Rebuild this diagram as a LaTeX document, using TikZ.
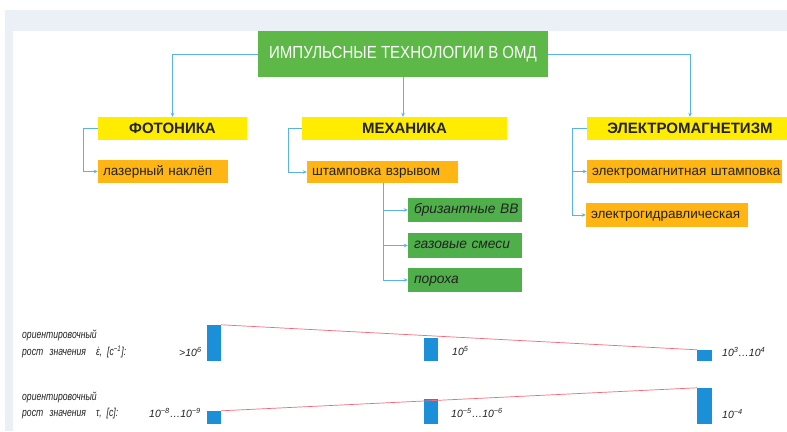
\documentclass[tikz,border=0pt]{standalone}
\usepackage{fontspec}
\setmainfont{Liberation Sans}
\newfontfamily\narrowfont[FakeStretch=0.86]{Liberation Sans}
\newfontfamily\lblfont[FakeStretch=0.75]{Liberation Sans}
\usetikzlibrary{arrows.meta,calc}
\definecolor{bgc}{HTML}{EBF0F7}
\definecolor{topgreen}{HTML}{5DB848}
\definecolor{ylw}{HTML}{FFEC00}
\definecolor{orng}{HTML}{FFB514}
\definecolor{grn}{HTML}{4FAF4A}
\definecolor{conc}{HTML}{5AB2E6}
\definecolor{barc}{HTML}{1B8FD8}
\definecolor{redl}{HTML}{F2697A}
\definecolor{txtc}{HTML}{222222}
\newcommand{\epsdot}{\ooalign{ε\cr\hidewidth˙\hidewidth\cr}}
\tikzset{
  headbox/.style={fill=ylw, inner sep=0pt, font=\fontsize{15}{17}\selectfont\bfseries, text=txtc},
  orbox/.style={fill=orng, inner xsep=5pt, inner ysep=0pt, align=left, text height=10pt, text depth=3pt, font=\fontsize{13.5}{16}\selectfont, text=txtc},
  grbox/.style={fill=grn, inner xsep=6pt, inner ysep=0pt, align=left, text height=9.5pt, text depth=3pt, font=\fontsize{13.8}{15}\selectfont\itshape, text=txtc},
  conn/.style={draw=conc, line width=0.8pt},
  arr/.style={conn, -{Stealth[length=4pt,width=3.5pt]}},
  bar/.style={fill=barc, draw=none},
  lbl/.style={font=\lblfont\fontsize{11.5}{13}\selectfont\itshape, text=txtc, inner sep=0pt, anchor=west},
  numl/.style={font=\fontsize{10.5}{12}\selectfont\itshape, text=txtc, inner sep=0pt, anchor=west},
}
\begin{document}
\begin{tikzpicture}[x=1pt,y=-1pt]
\useasboundingbox (0,0) rectangle (787,431);
\clip (0,0) rectangle (787,431);
\fill[white] (0,0) rectangle (787,431);
\fill[bgc] (5,10) rectangle (787,431);
\fill[white] (13,31) rectangle (787,431);

% top node
\node[fill=topgreen, minimum width=290pt, minimum height=46pt, inner sep=0pt,
      font=\narrowfont\fontsize{17.5}{19}\selectfont, text=white] (top) at (403,54) {ИМПУЛЬСНЫЕ ТЕХНОЛОГИИ В ОМД};

% heads
\node[headbox, minimum width=149pt, minimum height=23pt] (foto) at (172.5,128.5) {ФОТОНИКА};
\node[headbox, minimum width=205pt, minimum height=23pt] (mech) at (404.5,128.5) {МЕХАНИКА};
\node[headbox, minimum width=206pt, minimum height=23pt] (em) at (690,128.5) {ЭЛЕКТРОМАГНЕТИЗМ};

% orange boxes
\node[orbox, text width=120pt, minimum height=23pt] (laser) at (163,171.5) {\mbox{лазерный наклёп}};
\node[orbox, text width=141pt, minimum height=22pt] (shtamp) at (382.5,172) {\mbox{штамповка взрывом}};
\node[orbox, text width=185pt, minimum height=23pt] (emsh) at (684.5,171.5) {\mbox{электромагнитная штамповка}};
\node[orbox, text width=152pt, minimum height=24pt] (eg) at (667,215) {\mbox{электрогидравлическая}};

% green boxes
\node[grbox, text width=102pt, minimum height=24pt] (briz) at (465,210) {\mbox{бризантные ВВ}};
\node[grbox, text width=102pt, minimum height=25pt] (gaz) at (465,245.5) {\mbox{газовые смеси}};
\node[grbox, text width=102pt, minimum height=24pt] (por) at (465,280) {\mbox{пороха}};

% connectors from top
\draw[arr] (top.west) -| (foto.north);
\draw[arr] (top.east) -| (em.north);
\draw[arr] (top.south) -- (top.south |- mech.north);

\coordinate (fx) at (83,128.5);
\draw[conn] (foto.west) -- (fx);
\draw[arr] (fx) |- (laser.west);

\coordinate (mx) at (288,128.5);
\draw[conn] (mech.west) -- (mx);
\draw[arr] (mx) |- (shtamp.west);

\coordinate (ex) at (572,128.5);
\draw[conn] (em.west) -- (ex);
\draw[arr] (ex) |- (emsh.west);
\draw[arr] (ex) |- (eg.west);

\coordinate (sx) at (383,183);
\draw[arr] (sx) |- (briz.west);
\draw[arr] (sx) |- (gaz.west);
\draw[arr] (sx) |- (por.west);

% bottom row 1
\node[lbl] (l1a) at (22,335) {ориентировочный};
\node[lbl] (l1b) at (22,352) {рост\hspace{4pt} значения\hspace{10pt}\epsdot,\hspace{5pt}[с\textsuperscript{−1}]:};
\node[numl] (n11) at (179,352) {>10\textsuperscript{6}};
\node[bar, minimum width=14pt, minimum height=36pt, inner sep=0pt] (b11) at (214,343) {};
\node[bar, minimum width=14pt, minimum height=23pt, inner sep=0pt] (b12) at (431,349.5) {};
\node[bar, minimum width=15pt, minimum height=11pt, inner sep=0pt] (b13) at (704.5,355.5) {};
\node[numl] (n12) at (452,351) {10\textsuperscript{5}};
\node[numl] (n13) at (722,352) {10\textsuperscript{3}…10\textsuperscript{4}};
\draw[redl, line width=0.7pt] (b11.north east) -- (b13.north west);

% bottom row 2
\node[lbl] (l2a) at (22,397) {ориентировочный};
\node[lbl] (l2b) at (22,414) {рост\hspace{4pt} значения\hspace{10pt}τ,\hspace{5pt}[с]:};
\node[numl] (n21) at (149,413) {10\textsuperscript{−8}…10\textsuperscript{−9}};
\node[bar, minimum width=14pt, minimum height=13pt, inner sep=0pt] (b21) at (214,417.5) {};
\node[bar, minimum width=14pt, minimum height=25pt, inner sep=0pt] (b22) at (431,411.5) {};
\node[bar, minimum width=15pt, minimum height=36pt, inner sep=0pt] (b23) at (704.5,406) {};
\node[numl] (n22) at (451,413) {10\textsuperscript{−5}…10\textsuperscript{−6}};
\node[numl] (n23) at (722,414) {10\textsuperscript{−4}};
\draw[redl, line width=0.7pt] (b21.north east) -- (b23.north west);
\end{tikzpicture}
\end{document}
